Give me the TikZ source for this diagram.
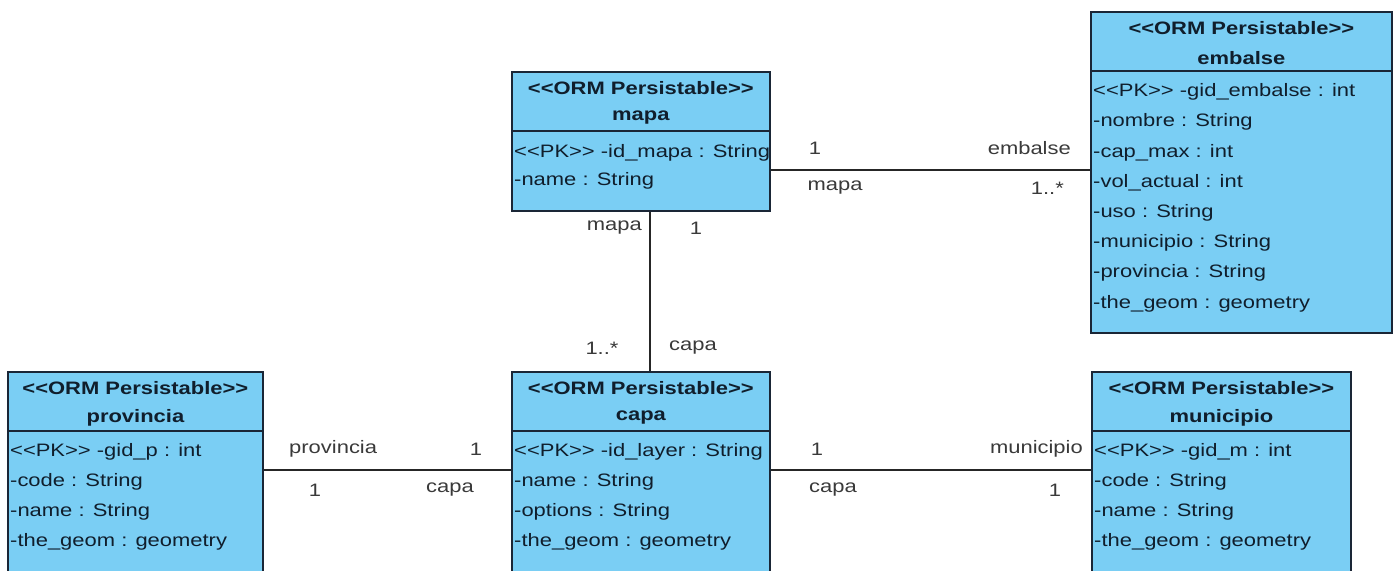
\documentclass[tikz,border=0pt]{standalone}
\usepackage{fontspec}
\newfontfamily\umlfont{Liberation Sans}[FakeStretch=1.22]
\definecolor{classfill}{RGB}{122,206,244}
\definecolor{classline}{RGB}{26,38,54}
\definecolor{classtext}{RGB}{16,30,44}
\definecolor{roletext}{RGB}{58,58,58}
\begin{document}
\begin{tikzpicture}[x=1pt,y=-1pt,
  font=\umlfont\fontsize{18}{22}\selectfont,
  classbox/.style={draw=classline, line width=1.8pt, fill=classfill,
    rectangle, inner sep=0pt, anchor=north west},
  stereo/.style={font=\umlfont\bfseries\fontsize{18}{22}\selectfont,
    text=classtext, inner sep=0pt, anchor=center},
  attr/.style={text=classtext, inner sep=0pt, anchor=west},
  role/.style={text=roletext, inner sep=0pt},
  assoc/.style={draw=black!85, line width=1.5pt}]
\useasboundingbox (0,0) rectangle (1396,570);
\fill[white] (0,0) rectangle (1396,570);
\clip (0,0) rectangle (1396,570);

% ---------- class boxes ----------
\node[classbox, minimum width=258pt, minimum height=139pt] (mapa) at (511,71) {};
\node[classbox, minimum width=301pt, minimum height=321pt] (embalse) at (1090,11) {};
\node[classbox, minimum width=255pt, minimum height=202pt] (provincia) at (7,371) {};
\node[classbox, minimum width=258pt, minimum height=202pt] (capa) at (511,371) {};
\node[classbox, minimum width=259pt, minimum height=202pt] (municipio) at (1091,371) {};

% header separators and titles
\foreach \c/\t in {mapa/mapa, embalse/embalse, provincia/provincia,
                   capa/capa, municipio/municipio}{
  \draw[classline, line width=1.8pt]
    ([yshift=-60pt]\c.north west) -- ([yshift=-60pt]\c.north east);
  \node[stereo] (\c-st) at ([yshift=-17pt]\c.north) {<<ORM Persistable>>};
  \node[stereo] (\c-nm) at ([yshift=-47pt]\c.north) {\t};
}

% attributes
\foreach \a [count=\i from 0] in {<<PK>> -id\_mapa : String, -name : String}
  \node[attr] (mapa-a\i) at ([xshift=3pt,yshift={-82pt-28pt*\i}]mapa.north west) {\a};
\foreach \a [count=\i from 0] in {<<PK>> -gid\_embalse : int, -nombre : String,
    -cap\_max : int, -vol\_actual : int, -uso : String, -municipio : String,
    -provincia : String, -the\_geom : geometry}
  \node[attr] (embalse-a\i) at ([xshift=3pt,yshift={-81pt-30.2pt*\i}]embalse.north west) {\a};
\foreach \a [count=\i from 0] in {<<PK>> -gid\_p : int, -code : String,
    -name : String, -the\_geom : geometry}
  \node[attr] (provincia-a\i) at ([xshift=3pt,yshift={-81pt-30pt*\i}]provincia.north west) {\a};
\foreach \a [count=\i from 0] in {<<PK>> -id\_layer : String, -name : String,
    -options : String, -the\_geom : geometry}
  \node[attr] (capa-a\i) at ([xshift=3pt,yshift={-81pt-30pt*\i}]capa.north west) {\a};
\foreach \a [count=\i from 0] in {<<PK>> -gid\_m : int, -code : String,
    -name : String, -the\_geom : geometry}
  \node[attr] (municipio-a\i) at ([xshift=3pt,yshift={-81pt-30pt*\i}]municipio.north west) {\a};

% ---------- associations ----------
\coordinate (yme) at (0,170);
\coordinate (xmc) at (650,0);
\coordinate (ylow) at (0,470);
\draw[assoc] (mapa.east |- yme) -- (embalse.west |- yme);
\draw[assoc] (mapa.south -| xmc) -- (capa.north -| xmc);
\draw[assoc] (provincia.east |- ylow) -- (capa.west |- ylow);
\draw[assoc] (capa.east |- ylow) -- (municipio.west |- ylow);

% role names and multiplicities
\node[role] (r1) at (815,148) {1};
\node[role, anchor=east] (r2) at (1071,148) {embalse};
\node[role] (r3) at (835,188) {mapa};
\node[role, anchor=east] (r4) at (1064,188) {1..*};

\node[role, anchor=east] (r5) at (642,228) {mapa};
\node[role] (r6) at (696,228) {1};
\node[role] (r7) at (602,348) {1..*};
\node[role] (r8) at (693,348) {capa};

\node[role, anchor=west] (r9) at (289,449) {provincia};
\node[role] (r10) at (476,449) {1};
\node[role] (r11) at (315,490) {1};
\node[role] (r12) at (450,490) {capa};

\node[role] (r13) at (817,449) {1};
\node[role, anchor=east] (r14) at (1083,449) {municipio};
\node[role] (r15) at (833,490) {capa};
\node[role] (r16) at (1055,490) {1};
\end{tikzpicture}
\end{document}
